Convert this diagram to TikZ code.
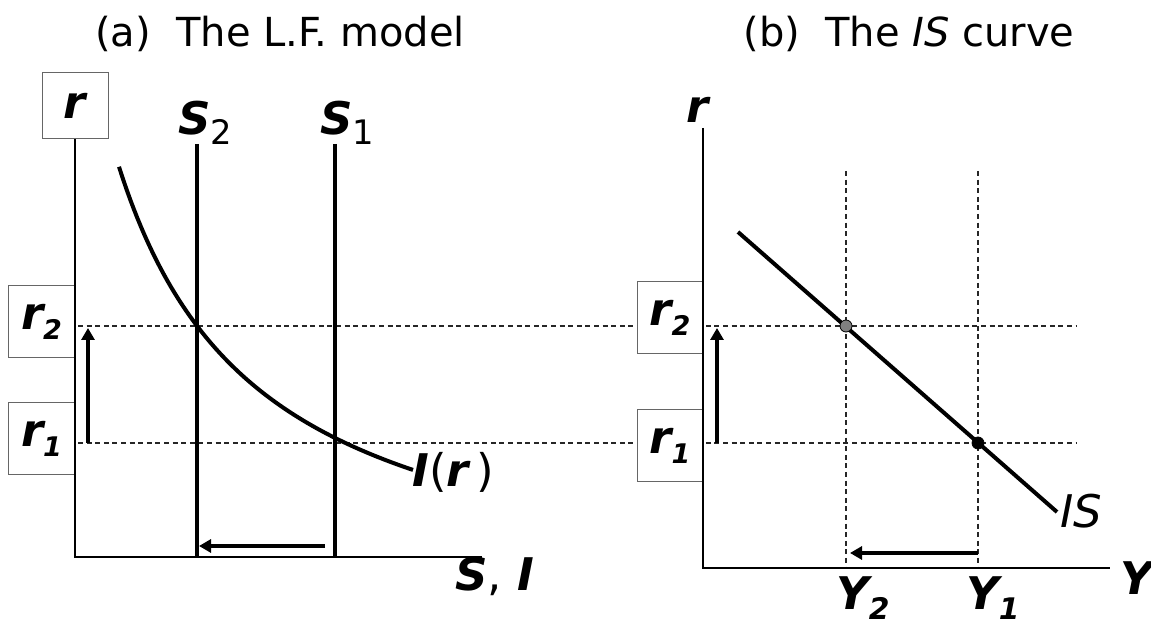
\documentclass[tikz,border=0pt]{standalone}
\usepackage{fontspec}
\setmainfont{DejaVu Sans}
\usetikzlibrary{arrows.meta, positioning, calc}
\newcommand{\lo}[2][.6]{\raisebox{-.22em}{\scalebox{#1}{#2}}}
\newcommand{\up}[1]{{\upshape\mdseries #1}}

\begin{document}
\begin{tikzpicture}[
        x=0.5pt, y=-0.5pt,
        title/.style={font=\fontsize{20}{24}\selectfont, anchor=base, inner sep=0pt},
        lbl/.style={font=\fontsize{22.5}{26}\selectfont\bfseries\itshape, anchor=base west, inner sep=0pt},
        valbox/.style={rectangle, draw=black!60, fill=white, line width=0.5pt, minimum width=33.5pt, minimum height=36pt, inner sep=0pt, font=\fontsize{22.5}{26}\selectfont\bfseries\itshape},
        axis/.style={line width=1pt, draw=black},
        curve/.style={line width=2pt, draw=black},
        guide/.style={dash pattern=on 2.5pt off 1.8pt, line width=0.6pt, draw=black!85},
        movearrow/.style={-{Triangle[length=6pt,width=6.5pt]}, line width=2pt},
        dot/.style={circle, draw=black, line width=0.4pt, minimum size=6pt, inner sep=0pt}
    ]
        \useasboundingbox (0,0) rectangle (1151,624);
        % titles
        \node[title] (tL) at (280,47) {(a)\ \ The L.F. model};
        \node[title] (tR) at (909,47) {(b)\ \ The \textit{IS} curve};
        % guide lines
        \coordinate (r2a) at (78,326);
        \coordinate (r2b) at (1077,326);
        \coordinate (r1a) at (78,443);
        \coordinate (r1b) at (1077,443);
        \coordinate (y2top) at (846,171);
        \coordinate (y2bot) at (846,568);
        \coordinate (y1top) at (978,171);
        \coordinate (y1bot) at (978,568);
        \draw[guide] (r2a) -- (r2b);
        \draw[guide] (r1a) -- (r1b);
        \draw[guide] (y2top) -- (y2bot);
        \draw[guide] (y1top) -- (y1bot);
        % value boxes
        \node[valbox, minimum width=33pt, minimum height=33pt] (rtop) at (75,106) {r};
        \node[valbox] (r2L) at (41.5,322) {r\lo{2}};
        \node[valbox] (r1L) at (41.5,439) {r\lo{1}};
        \node[valbox, minimum width=33pt] (r2R) at (670,318) {r\lo{2}};
        \node[valbox, minimum width=33pt] (r1R) at (670,445.5) {r\lo{1}};
        % axes
        \coordinate (oL) at (75,557);
        \coordinate (xL) at (482,557);
        \coordinate (oR) at (703,568);
        \coordinate (yR) at (703,128);
        \coordinate (xR) at (1110,568);
        \draw[axis] (rtop.south) -- (oL) -- (xL);
        \draw[axis] (yR) -- (oR) -- (xR);
        % saving and investment
        \coordinate (s2top) at (197,144);
        \coordinate (s2bot) at (197,557);
        \coordinate (s1top) at (335,144);
        \coordinate (s1bot) at (335,557);
        \draw[curve] (s2top) -- (s2bot);
        \draw[curve] (s1top) -- (s1bot);
        \draw[curve] plot[domain=119:413, samples=80] (\x, {617.3 - 643.48/(0.01*\x + 0.239)});
        % IS curve
        \coordinate (isA) at (738,232);
        \coordinate (isB) at (1057,512);
        \draw[curve] (isA) -- (isB);
        \node[dot, fill=gray] (e2) at (846,326) {};
        \node[dot, fill=black] (e1) at (978,443) {};
        % shifts
        \coordinate (upLa) at (88,443);
        \coordinate (upLb) at (88,328);
        \coordinate (upRa) at (717,443);
        \coordinate (upRb) at (717,328);
        \coordinate (lfLa) at (325,546);
        \coordinate (lfLb) at (199,546);
        \coordinate (lfRa) at (978,553);
        \coordinate (lfRb) at (850,553);
        \draw[movearrow] (upLa) -- (upLb);
        \draw[movearrow] (upRa) -- (upRb);
        \draw[movearrow] (lfLa) -- (lfLb);
        \draw[movearrow] (lfRa) -- (lfRb);
        % labels
        \node[lbl] (s2lab) at (178,135) {S\lo[.75]{\up{2}}};
        \node[lbl] (s1lab) at (320,135) {S\lo[.75]{\up{1}}};
        \node[lbl] (irlab) at (412,487) {I\up{(}r\,\up{)}};
        \node[lbl] (silab) at (455,590) {S\up{,} I};
        \node[lbl] (rR) at (686,123) {r};
        \node[lbl] (ylab) at (1120,595) {Y};
        \node[lbl] (y2lab) at (836,610) {Y\lo[.66]{2}};
        \node[lbl] (y1lab) at (966,610) {Y\lo[.66]{1}};
        \node[lbl, font=\fontsize{22.5}{26}\selectfont\itshape] (islab) at (1060,528) {IS};
    \end{tikzpicture}
\end{document}
